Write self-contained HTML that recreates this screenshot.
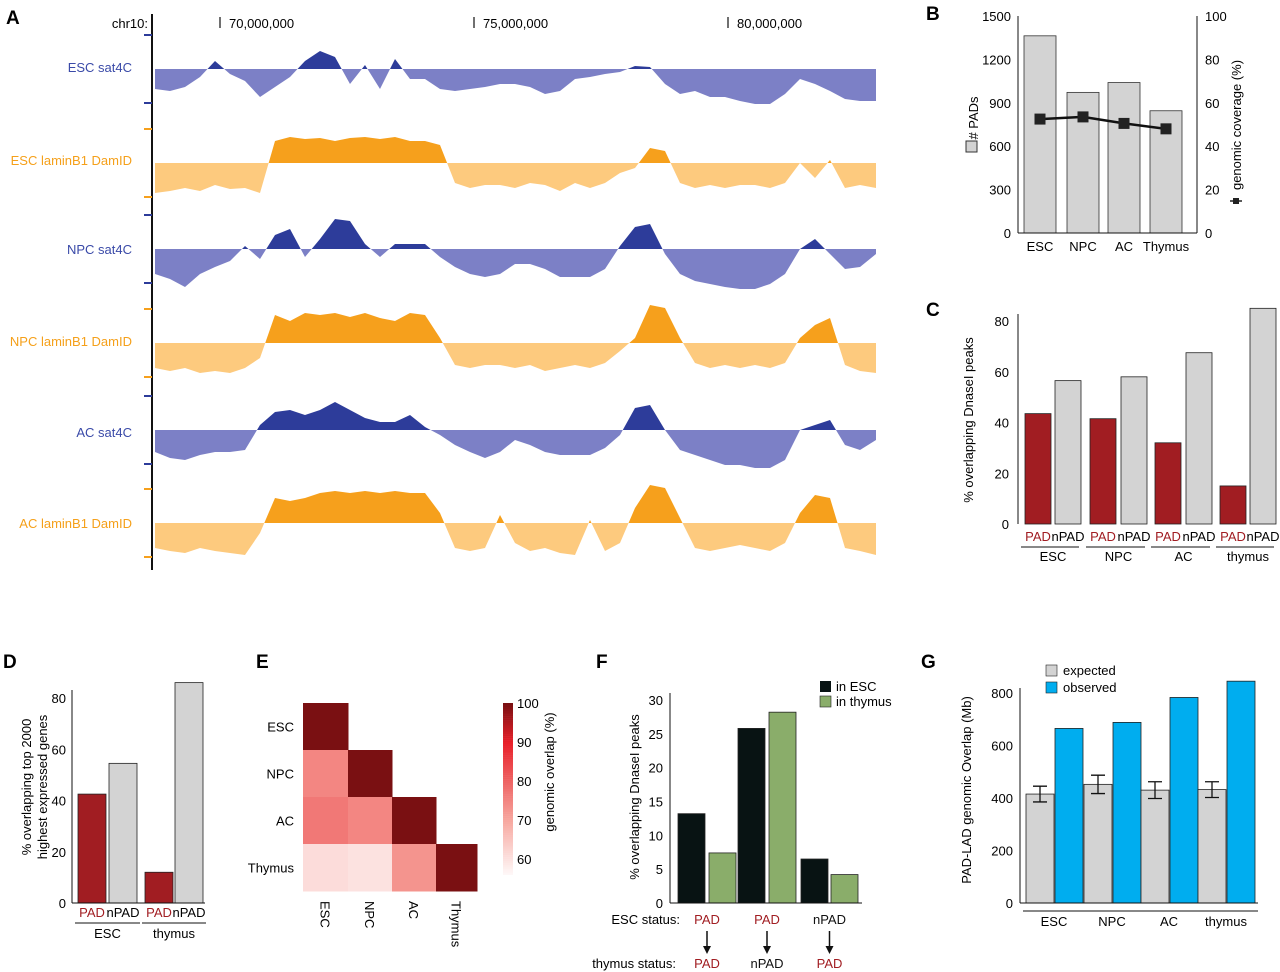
<!DOCTYPE html>
<html><head><meta charset="utf-8"><style>
body{margin:0;background:#fff;}
svg{display:block;font-family:"Liberation Sans",Arial,sans-serif;}
</style></head><body>
<svg id="fig" width="1280" height="972" viewBox="0 0 1280 972">
<defs id="defs"></defs>
<g id="pA"></g>
<g id="pB"></g>
<g id="pC"></g>
<g id="pD"></g>
<g id="pE"></g>
<g id="pF"></g>
<g id="pG"></g>
</svg>
<script>
// ---------- Panel A data ----------
const trackStartX = 155;
const trackStep = 15;
const trackNames = ["ESC sat4C","ESC laminB1 DamID","NPC sat4C","NPC laminB1 DamID","AC sat4C","AC laminB1 DamID"];
const escSat = [-20,-22,-18,-8,8,-5,-12,-28,-18,-8,8,18,12,-15,4,-20,10,-10,-10,-20,-22,-20,-18,-15,-15,-18,-25,-22,-10,-8,-5,-3,3,2,-15,-25,-22,-28,-28,-32,-35,-35,-25,-10,-15,-22,-30,-32,-32];
const escLam = [-30,-28,-25,-28,-22,-26,-25,-30,22,26,24,25,22,25,26,24,26,22,22,18,-20,-25,-22,-22,-25,-20,-22,-28,-20,-25,-20,-10,-5,15,12,-20,-25,-22,-25,-22,-22,-25,-20,0,-15,3,-25,-22,-25];
const npcSat = [-25,-30,-38,-25,-18,-12,3,-10,14,20,-8,10,30,28,5,-8,5,5,5,-8,-18,-25,-28,-25,-15,-15,-20,-28,-28,-28,-20,3,22,25,-5,-25,-32,-35,-38,-40,-40,-35,-25,0,10,-5,-20,-18,-5];
const npcLam = [-25,-28,-25,-30,-28,-30,-25,-15,28,22,30,28,30,26,30,25,22,30,28,5,-22,-25,-22,-22,-25,-22,-28,-25,-22,-25,-20,-8,5,38,35,5,-20,-25,-22,-25,-22,-25,-20,5,18,25,-22,-28,-30];
const acSat = [-22,-28,-30,-25,-22,-22,-20,5,18,20,15,20,28,20,12,8,8,15,3,-5,-15,-22,-28,-22,-10,-15,-22,-25,-25,-25,-18,-5,22,25,0,-20,-25,-30,-35,-35,-38,-38,-30,0,5,10,-15,-20,-10];
const acLam = [-25,-28,-30,-25,-28,-30,-32,-10,25,22,25,30,32,30,32,30,32,30,30,10,-25,-28,-25,8,-20,-28,-25,-30,-32,3,-28,-20,15,38,35,5,-25,-28,-25,-22,-25,-28,-20,10,28,25,-25,-28,-32];
const chrTicks = [70000000,75000000,80000000];

// ---------- Panel B data ----------
const bCats = ["ESC","NPC","AC","Thymus"];
const bPads = [1363,972,1040,845];
const bCoverage = [52.5,53.5,50.5,48];
const bLeftTicks = [0,300,600,900,1200,1500];
const bRightTicks = [0,20,40,60,80,100];

// ---------- Panel C data ----------
const cGroups = ["ESC","NPC","AC","thymus"];
const cPad = [43.5,41.5,32,15];
const cNpad = [56.5,58,67.5,85];
const cTicks = [0,20,40,60,80];

// ---------- Panel D data ----------
const dGroups = ["ESC","thymus"];
const dPad = [42.5,12];
const dNpad = [54.5,86];
const dTicks = [0,20,40,60,80];

// ---------- Panel E data ----------
const eLabels = ["ESC","NPC","AC","Thymus"];
const eRow0 = [100];
const eRow1 = [75,100];
const eRow2 = [77,75,100];
const eRow3 = [61,60,73,100];
const eBarTicks = [60,70,80,90,100];

// ---------- Panel F data ----------
const fEsc = [13.2,25.8,6.5];
const fThy = [7.4,28.2,4.2];
const fEscStatus = ["PAD","PAD","nPAD"];
const fThyStatus = ["PAD","nPAD","PAD"];
const fTicks = [0,5,10,15,20,25,30];

// ---------- Panel G data ----------
const gGroups = ["ESC","NPC","AC","thymus"];
const gExpected = [415,452,430,432];
const gErr = [30,35,32,30];
const gObserved = [665,688,783,845];
const gTicks = [0,200,400,600,800];

const NS = "http://www.w3.org/2000/svg";
function mk(parent, tag, attrs, text){
  const e = document.createElementNS(NS, tag);
  for (const k in attrs) e.setAttribute(k, attrs[k]);
  if (text !== undefined) e.textContent = text;
  parent.appendChild(e);
  return e;
}
const FS = 13;

// ===== Panel A =====
(function(){
  const g = document.getElementById('pA');
  const defs = document.getElementById('defs');
  const t = mk(g,'text',{x:6,y:24,'font-size':19,'font-weight':'bold'},'A');
  
  
  const ax = mk(g,'line',{x1:152,y1:14,x2:152,y2:570,stroke:'#111','stroke-width':2});
  
  
  const chr = mk(g,'text',{x:148,y:28,'font-size':FS,'text-anchor':'end'},'chr10:');
  
  
  const xPos = v => 220 + (v-70000000)/5000000*254;
  chrTicks.forEach(v=>{
    const x = xPos(v);
    const l = mk(g,'line',{x1:x,y1:17,x2:x,y2:28,stroke:'#111','stroke-width':1.2});
    
    
    const tx = mk(g,'text',{x:x+9,y:28,'font-size':FS},v.toLocaleString('en-US'));
    
    
  });
  const tracks = [escSat,escLam,npcSat,npcLam,acSat,acLam];
  const baselines = [69,163,249,343,430,523];
  const labelY = [72,165,254,346,437,528];
  tracks.forEach((vals,i)=>{
    const sat = i%2===0;
    const pos = sat ? '#2d3c9a' : '#f6a01c';
    const neg = sat ? '#7c80c6' : '#fdca7e';
    const base = baselines[i];
    const cpU = mk(defs,'clipPath',{id:'cu'+i});
    mk(cpU,'rect',{x:155,y:base-60,width:721,height:60});
    const cpD = mk(defs,'clipPath',{id:'cd'+i});
    mk(cpD,'rect',{x:155,y:base,width:721,height:60});
    const tg = mk(g,'g',{});
    
    
    const first = trackStartX, last = trackStartX + (vals.length-1)*trackStep + 1;
    const pts = [[first,base]];
    vals.forEach((v,j)=>{ pts.push([trackStartX + j*trackStep, base - v]); });
    pts[pts.length-1][0] = last;
    pts.push([last,base]);
    const ps = pts.map(p=>p.join(',')).join(' ');
    const pP = mk(tg,'polygon',{points:ps,fill:pos,'clip-path':'url(#cu'+i+')'});
    
    
    const pN = mk(tg,'polygon',{points:ps,fill:neg,'clip-path':'url(#cd'+i+')'});
    
    
    const lb = mk(g,'text',{x:132,y:labelY[i],'font-size':FS,'text-anchor':'end',fill: sat?'#3a4aa8':'#f5a01a'},trackNames[i]);
    
    
    const m1 = mk(g,'line',{x1:144,y1:base-34,x2:152,y2:base-34,stroke: sat?'#2d3c9a':'#f6a01c','stroke-width':2});
    
    
    const m2 = mk(g,'line',{x1:144,y1:base+34,x2:152,y2:base+34,stroke: sat?'#2d3c9a':'#f6a01c','stroke-width':2});
    
    
  });
})();

// ===== Panel B =====
(function(){
  const g = document.getElementById('pB');
  const L = mk(g,'text',{x:926,y:20,'font-size':19,'font-weight':'bold'},'B');
  
  
  const x0=1018,x1=1197,y0=233,y1=16;
  const yL = v => y0 - v/1500*(y0-y1);
  const yR = v => y0 - v/100*(y0-y1);
  const bx = [1024,1067,1108,1150], bw=32;
  bPads.forEach((v,i)=>{
    const r = mk(g,'rect',{x:bx[i],y:yL(v),width:bw,height:y0-yL(v),fill:'#d3d3d3',stroke:'#333','stroke-width':0.8});
    
    
    const t = mk(g,'text',{x:bx[i]+bw/2,y:251,'font-size':FS,'text-anchor':'middle'},bCats[i]);
    
    
  });
  const pts = bCoverage.map((v,i)=>[bx[i]+bw/2,yR(v)]);
  const pl = mk(g,'polyline',{points:pts.map(p=>p.join(',')).join(' '),fill:'none',stroke:'#111','stroke-width':2.5});
  
  
  pts.forEach(p=>{
    const s = mk(g,'rect',{x:p[0]-5.5,y:p[1]-5.5,width:11,height:11,fill:'#222'});
    
    
  });
  const al = mk(g,'line',{x1:x0,y1:y1,x2:x0,y2:y0,stroke:'#111'});
  
  
  const ar = mk(g,'line',{x1:x1,y1:y1,x2:x1,y2:y0,stroke:'#111'});
  
  
  const ab = mk(g,'line',{x1:x0,y1:y0,x2:x1,y2:y0,stroke:'#111'});
  
  
  bLeftTicks.forEach(v=>{
    const t = mk(g,'text',{x:1011,y:yL(v)+5,'font-size':FS,'text-anchor':'end'},v);
    
    
  });
  bRightTicks.forEach(v=>{
    const t = mk(g,'text',{x:1205,y:yR(v)+5,'font-size':FS},v);
    
    
  });
  const yt = mk(g,'text',{x:0,y:0,'font-size':FS,'text-anchor':'middle',transform:'translate(978,118) rotate(-90)'},'# PADs');
  
  
  const ls = mk(g,'rect',{x:966,y:141,width:11,height:11,fill:'#d3d3d3',stroke:'#333'});
  
  
  const yt2 = mk(g,'text',{x:0,y:0,'font-size':FS,'text-anchor':'middle',transform:'translate(1241,125) rotate(-90)'},'genomic coverage (%)');
  
  
  const lm = mk(g,'rect',{x:1233,y:198,width:6,height:6,fill:'#222'});
  
  
  const lml = mk(g,'line',{x1:1230,y1:201,x2:1242,y2:201,stroke:'#222','stroke-width':1.5});
  
  
})();

// ===== Panel C =====
(function(){
  const g = document.getElementById('pC');
  const L = mk(g,'text',{x:926,y:316,'font-size':19,'font-weight':'bold'},'C');
  
  
  const x0=1018,y0=524,y80=321;
  const y = v => y0 - v/80*(y0-y80);
  const padX=[1025,1090,1155,1220], npadX=[1055,1121,1186,1250], w=26;
  cGroups.forEach((gr,i)=>{
    const a = mk(g,'rect',{x:padX[i],y:y(cPad[i]),width:w,height:y0-y(cPad[i]),fill:'#a11d22',stroke:'#222','stroke-width':0.8});
    
    
    const b = mk(g,'rect',{x:npadX[i],y:y(cNpad[i]),width:w,height:y0-y(cNpad[i]),fill:'#d3d3d3',stroke:'#222','stroke-width':0.8});
    
    
    const t1 = mk(g,'text',{x:padX[i]+w/2,y:541,'font-size':FS,'text-anchor':'middle',fill:'#a11d22'},'PAD');
    
    
    const t2 = mk(g,'text',{x:npadX[i]+w/2,y:541,'font-size':FS,'text-anchor':'middle'},'nPAD');
    
    
    const ln = mk(g,'line',{x1:padX[i]-4,y1:547,x2:npadX[i]+w-2,y2:547,stroke:'#111'});
    
    
    const t3 = mk(g,'text',{x:(padX[i]+npadX[i]+w)/2,y:561,'font-size':FS,'text-anchor':'middle'},gr);
    
    
  });
  const ax = mk(g,'line',{x1:x0,y1:314,x2:x0,y2:y0,stroke:'#111'});
  
  
  cTicks.forEach(v=>{
    const t = mk(g,'text',{x:1009,y:y(v)+5,'font-size':FS,'text-anchor':'end'},v);
    
    
  });
  const yt = mk(g,'text',{x:0,y:0,'font-size':FS,'text-anchor':'middle',transform:'translate(973,420) rotate(-90)'},'% overlapping DnaseI peaks');
  
  
})();

// ===== Panel D =====
(function(){
  const g = document.getElementById('pD');
  const L = mk(g,'text',{x:3,y:668,'font-size':19,'font-weight':'bold'},'D');
  
  
  const x0=72,y0=903,y80=698;
  const y = v => y0 - v/80*(y0-y80);
  const padX=[78,145], npadX=[109,175], w=28;
  dGroups.forEach((gr,i)=>{
    const a = mk(g,'rect',{x:padX[i],y:y(dPad[i]),width:w,height:y0-y(dPad[i]),fill:'#a11d22',stroke:'#222','stroke-width':0.8});
    
    
    const b = mk(g,'rect',{x:npadX[i],y:y(dNpad[i]),width:w,height:y0-y(dNpad[i]),fill:'#d3d3d3',stroke:'#222','stroke-width':0.8});
    
    
    const t1 = mk(g,'text',{x:padX[i]+w/2,y:917,'font-size':FS,'text-anchor':'middle',fill:'#a11d22'},'PAD');
    
    
    const t2 = mk(g,'text',{x:npadX[i]+w/2,y:917,'font-size':FS,'text-anchor':'middle'},'nPAD');
    
    
    const ln = mk(g,'line',{x1:padX[i]-3,y1:923,x2:npadX[i]+w+3,y2:923,stroke:'#111'});
    
    
    const t3 = mk(g,'text',{x:(padX[i]+npadX[i]+w)/2,y:938,'font-size':FS,'text-anchor':'middle'},gr);
    
    
  });
  const ax = mk(g,'line',{x1:x0,y1:690,x2:x0,y2:y0,stroke:'#111'});
  
  
  const bx = mk(g,'line',{x1:x0,y1:y0,x2:205,y2:y0,stroke:'#111'});
  
  
  dTicks.forEach(v=>{
    const t = mk(g,'text',{x:66,y:y(v)+5,'font-size':FS,'text-anchor':'end'},v);
    
    
  });
  const yt = mk(g,'text',{x:0,y:0,'font-size':FS,'text-anchor':'middle',transform:'translate(31,787) rotate(-90)'},'% overlapping top 2000');
  
  
  const yt2 = mk(g,'text',{x:0,y:0,'font-size':FS,'text-anchor':'middle',transform:'translate(47,787) rotate(-90)'},'highest expressed genes');
  
  
})();

// ===== Panel E =====
(function(){
  const g = document.getElementById('pE');
  const L = mk(g,'text',{x:256,y:668,'font-size':19,'font-weight':'bold'},'E');
  
  
  const stops = [[55,[255,255,255]],[60,[252,226,224]],[70,[247,168,160]],[80,[238,100,100]],[90,[232,32,42]],[100,[122,16,18]]];
  function col(v){
    for(let i=0;i<stops.length-1;i++){
      const [a,ca]=stops[i],[b,cb]=stops[i+1];
      if(v<=b){const t=Math.max(0,(v-a)/(b-a));return 'rgb('+ca.map((c,k)=>Math.round(c+(cb[k]-c)*t)).join(',')+')';}
    }
    return 'rgb(122,16,18)';
  }
  const rows=[eRow0,eRow1,eRow2,eRow3];
  const cx=[303,348,392,436,477], cy=[703,750,797,844,891];
  rows.forEach((r,i)=>{
    r.forEach((v,j)=>{
      const c = mk(g,'rect',{x:cx[j],y:cy[i],width:cx[j+1]-cx[j]+0.5,height:cy[i+1]-cy[i]+0.5,fill:col(v)});
      
      
    });
    const t = mk(g,'text',{x:294,y:(cy[i]+cy[i+1])/2+5,'font-size':FS,'text-anchor':'end'},eLabels[i]);
    
    
    const t2 = mk(g,'text',{x:0,y:0,'font-size':FS,transform:'translate('+((cx[i]+cx[i+1])/2-5)+',901) rotate(90)'},eLabels[i]);
    
    
  });
  const cbY = v => 703 + (100-v)*3.9;
  for(let v=100; v>56; v-=0.5){
    const r = mk(g,'rect',{x:503,y:cbY(v),width:10,height:2.2,fill:col(v)});
    
    
  }
  eBarTicks.forEach(v=>{
    const t = mk(g,'text',{x:517,y:cbY(v)+5,'font-size':FS},v);
    
    
  });
  const ct = mk(g,'text',{x:0,y:0,'font-size':FS,'text-anchor':'middle',transform:'translate(554,772) rotate(-90)'},'genomic overlap (%)');
  
  
})();

// ===== Panel F =====
(function(){
  const g = document.getElementById('pF');
  const L = mk(g,'text',{x:596,y:668,'font-size':19,'font-weight':'bold'},'F');
  
  
  const x0=670,y0=903,y30=700;
  const y = v => y0 - v/30*(y0-y30);
  const ex=[678,738,801], tx=[709,769,831], w=27;
  fEsc.forEach((v,i)=>{
    const a = mk(g,'rect',{x:ex[i],y:y(v),width:w,height:y0-y(v),fill:'#081313',stroke:'#222','stroke-width':0.8});
    
    
    const b = mk(g,'rect',{x:tx[i],y:y(fThy[i]),width:w,height:y0-y(fThy[i]),fill:'#8aad6a',stroke:'#222','stroke-width':0.8});
    
    
    const cxm = (ex[i]+tx[i]+w)/2;
    const s1 = mk(g,'text',{x:cxm,y:924,'font-size':FS,'text-anchor':'middle',fill:fEscStatus[i]==='PAD'?'#a11d22':'#111'},fEscStatus[i]);
    
    
    const ar = mk(g,'line',{x1:cxm,y1:931,x2:cxm,y2:948,stroke:'#111','stroke-width':1.5});
    
    
    const ah = mk(g,'polygon',{points:(cxm-4)+',946 '+(cxm+4)+',946 '+cxm+',954',fill:'#111'});
    
    
    const s2 = mk(g,'text',{x:cxm,y:968,'font-size':FS,'text-anchor':'middle',fill:fThyStatus[i]==='PAD'?'#a11d22':'#111'},fThyStatus[i]);
    
    
  });
  const ax = mk(g,'line',{x1:x0,y1:693,x2:x0,y2:y0,stroke:'#111'});
  
  
  const bx = mk(g,'line',{x1:x0,y1:y0,x2:862,y2:y0,stroke:'#111'});
  
  
  fTicks.forEach(v=>{
    const t = mk(g,'text',{x:663,y:y(v)+5,'font-size':FS,'text-anchor':'end'},v);
    
    
  });
  const yt = mk(g,'text',{x:0,y:0,'font-size':FS,'text-anchor':'middle',transform:'translate(639,797) rotate(-90)'},'% overlapping DnaseI peaks');
  
  
  const es = mk(g,'text',{x:680,y:924,'font-size':FS,'text-anchor':'end'},'ESC status:');
  
  
  const ts = mk(g,'text',{x:676,y:968,'font-size':FS,'text-anchor':'end'},'thymus status:');
  
  
  const l1 = mk(g,'rect',{x:820,y:681,width:11,height:11,fill:'#081313'});
  
  
  const l1t = mk(g,'text',{x:836,y:691,'font-size':FS},'in ESC');
  
  
  const l2 = mk(g,'rect',{x:820,y:696,width:11,height:11,fill:'#8aad6a',stroke:'#222','stroke-width':0.6});
  
  
  const l2t = mk(g,'text',{x:836,y:706,'font-size':FS},'in thymus');
  
  
})();

// ===== Panel G =====
(function(){
  const g = document.getElementById('pG');
  const L = mk(g,'text',{x:921,y:668,'font-size':19,'font-weight':'bold'},'G');
  
  
  const x0=1020,y0=903,y800=693;
  const y = v => y0 - v/800*(y0-y800);
  const ex=[1026,1084,1141,1198], w=28;
  gGroups.forEach((gr,i)=>{
    const a = mk(g,'rect',{x:ex[i],y:y(gExpected[i]),width:w,height:y0-y(gExpected[i]),fill:'#d3d3d3',stroke:'#222','stroke-width':0.8});
    
    
    const b = mk(g,'rect',{x:ex[i]+w+1,y:y(gObserved[i]),width:w,height:y0-y(gObserved[i]),fill:'#00adef',stroke:'#222','stroke-width':0.8});
    
    
    const c = ex[i]+w/2;
    const e1 = y(gExpected[i]+gErr[i]), e2 = y(gExpected[i]-gErr[i]);
    const el = mk(g,'path',{d:'M'+c+','+e1+'V'+e2+'M'+(c-7)+','+e1+'H'+(c+7)+'M'+(c-7)+','+e2+'H'+(c+7),stroke:'#111','stroke-width':1.3,fill:'none'});
    
    
    const ln = mk(g,'line',{x1:ex[i]-3,y1:911,x2:ex[i]+2*w+4,y2:911,stroke:'#111'});
    
    
    const t = mk(g,'text',{x:ex[i]+w,y:926,'font-size':FS,'text-anchor':'middle'},gr);
    
    
  });
  const ax = mk(g,'line',{x1:x0,y1:688,x2:x0,y2:y0,stroke:'#111'});
  
  
  const bx = mk(g,'line',{x1:x0,y1:y0,x2:1258,y2:y0,stroke:'#111'});
  
  
  gTicks.forEach(v=>{
    const t = mk(g,'text',{x:1013,y:y(v)+5,'font-size':FS,'text-anchor':'end'},v);
    
    
  });
  const yt = mk(g,'text',{x:0,y:0,'font-size':FS,'text-anchor':'middle',transform:'translate(971,790) rotate(-90)'},'PAD-LAD genomic Overlap (Mb)');
  
  
  const l1 = mk(g,'rect',{x:1046,y:665,width:11,height:11,fill:'#d3d3d3',stroke:'#222','stroke-width':0.6});
  
  
  const l1t = mk(g,'text',{x:1063,y:675,'font-size':FS},'expected');
  
  
  const l2 = mk(g,'rect',{x:1046,y:682,width:11,height:11,fill:'#00adef',stroke:'#222','stroke-width':0.6});
  
  
  const l2t = mk(g,'text',{x:1063,y:692,'font-size':FS},'observed');
  
  
})();
</script>
</body></html>
